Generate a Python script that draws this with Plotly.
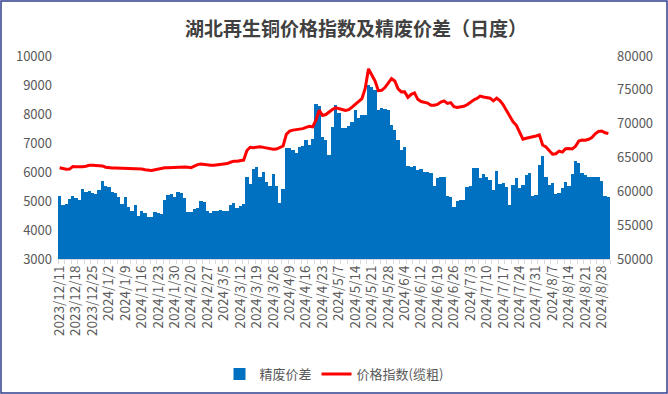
import pandas as pd
import plotly.graph_objects as go

# Tick labels shown on the x axis (every 5th trading day)
label_dates = [
    "2023/12/11", "2023/12/18", "2023/12/25", "2024/1/2", "2024/1/9", "2024/1/16",
    "2024/1/23", "2024/1/30", "2024/2/20", "2024/2/27", "2024/3/5", "2024/3/12",
    "2024/3/19", "2024/3/26", "2024/4/9", "2024/4/16", "2024/4/23", "2024/5/7",
    "2024/5/14", "2024/5/21", "2024/5/28", "2024/6/4", "2024/6/12", "2024/6/19",
    "2024/6/26", "2024/7/3", "2024/7/10", "2024/7/17", "2024/7/24", "2024/7/31",
    "2024/8/7", "2024/8/14", "2024/8/21", "2024/8/28",
]

# 精废价差 (left axis)
spread = [
    5170, 4860, 4900, 5070, 5170, 5100, 5030, 5410, 5320, 5340,
    5260, 5240, 5370, 5690, 5520, 5490, 5310, 5260, 5150, 4900,
    5130, 4800, 4650, 4850, 4500, 4650, 4580, 4460, 4460, 4620,
    4600, 4550, 5030, 5200, 5240, 5150, 5300, 5260, 5090, 4620,
    4620, 4740, 4770, 4990, 4950, 4670, 4600, 4670, 4640, 4690,
    4670, 4640, 4850, 4920, 4770, 4840, 4900, 5840, 5590, 6100,
    6160, 5840, 6010, 5640, 5530, 5930, 5520, 4940, 5430, 6820,
    6820, 6760, 6650, 6850, 6910, 7100, 6930, 7130, 8350, 8260,
    7200, 7100, 6590, 7560, 8300, 8030, 7510, 7510, 7590, 7740,
    8140, 7850, 7970, 7970, 9000, 8920, 8830, 8140, 8200, 8170,
    8140, 7630, 7440, 7120, 6750, 6850, 6210, 6160, 6210, 6070,
    6110, 6010, 6000, 5950, 5520, 5800, 5820, 5820, 5170, 5130,
    4800, 5010, 5040, 5040, 5470, 5520, 6130, 6140, 5780, 5930,
    5840, 5730, 5380, 6040, 5590, 5630, 5470, 4850, 5550, 5780,
    5440, 5550, 5880, 5950, 5170, 5210, 6230, 6550, 5840, 5550,
    5630, 5240, 5260, 5440, 5670, 5520, 5930, 6390, 6320, 5950,
    5900, 5840, 5840, 5820, 5820, 5700, 5170, 5130,
]

# 价格指数(缆粗) (right axis)
index_price = [
    63480, 63380, 63270, 63290, 63670, 63620, 63580, 63620, 63700, 63840,
    63840, 63780, 63780, 63760, 63560, 63470, 63450, 63430, 63420, 63390,
    63360, 63330, 63290, 63290, 63290, 63290, 63180, 63080, 63090, 63190,
    63310, 63430, 63485, 63485, 63520, 63570, 63630, 63620, 63590, 63550,
    63500, 63720, 63950, 64040, 63950, 63910, 63860, 63850, 63920, 63960,
    64020, 64100, 64300, 64460, 64460, 64520, 64620, 66030, 66520, 66460,
    66490, 66600, 66500, 66400, 66300, 66220, 66250, 66420, 66700, 68430,
    68900, 69050, 69120, 69120, 69270, 69450, 69600, 69520, 70500, 72000,
    71200, 71350, 71760, 72100, 72340, 72260, 72100, 71960, 72070, 72450,
    72890, 73340, 73700, 75200, 78100, 77200, 76300, 74870, 74930, 75340,
    76000, 76650, 76300, 75140, 74700, 74720, 73890, 74330, 74550, 73600,
    73270, 73200, 73050, 72720, 72720, 72850, 73200, 73360, 72990, 73110,
    72510, 72400, 72430, 72560, 72800, 73200, 73500, 73730, 74080, 73950,
    73830, 73770, 73380, 73770, 73420, 72800, 71930, 71000, 70280, 69750,
    68800, 67700, 67850, 67950, 68000, 68180, 68340, 66850, 66560, 65950,
    65480, 65560, 65950, 65800, 66300, 66320, 66275, 66650, 67420, 67570,
    67560, 67700, 67950, 68500, 68840, 68920, 68650, 68550,
]

# Category dates: each labelled day followed by the next trading days
dates = []
for i, d in enumerate(label_dates):
    n = 5 if i < len(label_dates) - 1 else 3
    for dd in pd.bdate_range(pd.Timestamp(d), periods=n):
        dates.append(f"{dd.year}/{dd.month}/{dd.day}")
dates = dates[: len(spread)]
pos = list(range(len(dates)))

FONT = "Noto Sans CJK SC"
GRAY = "#595959"

fig = go.Figure()
fig.add_trace(go.Bar(
    x=pos, y=spread, name="精废价差", customdata=dates,
    hovertemplate="%{customdata}<br>%{y}<extra>精废价差</extra>",
    marker=dict(color="#0070C0", line=dict(width=0)),
))
fig.add_trace(go.Scatter(
    x=pos, y=index_price, name="价格指数(缆粗)", yaxis="y2", mode="lines",
    customdata=dates,
    hovertemplate="%{customdata}<br>%{y}<extra>价格指数(缆粗)</extra>",
    line=dict(color="#FF0000", width=3),
))

W, H = 668, 394
ml, mr, mt, mb = 58, 58, 56, 135
pw, ph = W - ml - mr, H - mt - mb

fig.update_layout(
    width=W, height=H,
    margin=dict(l=ml, r=mr, t=mt, b=mb, pad=0, autoexpand=False),
    paper_bgcolor="white", plot_bgcolor="white",
    font=dict(family=FONT, color=GRAY, size=13),
    bargap=0,
    title=dict(
        text="<b>湖北再生铜价格指数及精废价差（日度）</b>",
        x=356 / W, xanchor="center", xref="container",
        y=1 - 29 / H, yanchor="middle",
        font=dict(family=FONT, size=19, color="#404040"),
    ),
    xaxis=dict(
        range=[-0.5, len(dates) - 0.5],
        automargin=False,
        tickmode="array",
        tickvals=pos[::5],
        ticktext=[dates[i] for i in pos[::5]],
        tickangle=-90,
        tickfont=dict(family=FONT, size=13.5, color=GRAY),
        ticks="",
        showline=True, linecolor="#D9D9D9", linewidth=1,
        showgrid=False, zeroline=False,
        minor=dict(ticks="outside", ticklen=4, tickcolor="#D9D9D9",
                   tickmode="linear", tick0=-0.5, dtick=2, showgrid=False),
    ),
    yaxis=dict(
        range=[3000, 10000], dtick=1000, tick0=3000, tickformat="d",
        automargin=False,
        showgrid=False, zeroline=False, showline=False, ticks="",
        tickfont=dict(family=FONT, size=13, color=GRAY),
        ticklabelstandoff=5,
    ),
    yaxis2=dict(
        range=[50000, 80000], dtick=5000, tick0=50000, tickformat="d",
        automargin=False,
        overlaying="y", side="right",
        showgrid=False, zeroline=False, showline=False, ticks="",
        tickfont=dict(family=FONT, size=13, color=GRAY),
        ticklabelstandoff=6,
    ),
    legend=dict(
        orientation="h", x=0.5, xanchor="center",
        y=-(374 - (H - mb)) / ph, yanchor="middle",
        font=dict(family=FONT, size=13, color=GRAY),
        bgcolor="rgba(0,0,0,0)",
    ),
    shapes=[dict(
        type="rect", xref="paper", yref="paper",
        x0=(-ml + 1) / pw, x1=1 + (mr - 1) / pw,
        y0=(-mb + 1) / ph, y1=1 + (mt - 1) / ph,
        line=dict(color="#2F3F8F", width=1.5), fillcolor="rgba(0,0,0,0)",
        layer="above",
    )],
)

fig.write_html(
    "out.html",
    config={"displayModeBar": False},
    post_script="document.body.style.margin='0';document.body.style.overflow='hidden';",
)
